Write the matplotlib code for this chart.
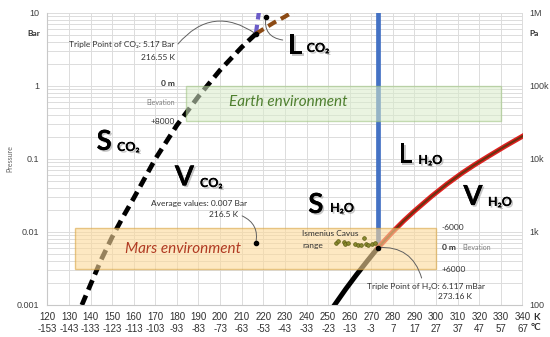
import numpy as np
import matplotlib
matplotlib.use("Agg")
import matplotlib.pyplot as plt
import matplotlib.patheffects as pe
from matplotlib.patches import Rectangle
from matplotlib.ticker import LogLocator, NullFormatter, FixedLocator

plt.rcParams['font.family'] = ['Lato', 'DejaVu Sans']
narrow = ['Liberation Sans Narrow', 'Liberation Sans', 'DejaVu Sans']

# CO2 phase boundaries (K, bar)
co2_sub_T = [136, 140, 145, 150, 155, 160, 170, 180, 190, 200, 210, 216.55]
co2_sub_P = [0.001, 0.0019, 0.0042, 0.0085, 0.016, 0.029, 0.10, 0.29, 0.72, 1.65, 3.4, 5.17]
co2_melt_T = [216.55, 218.0]
co2_melt_P = [5.17, 10.5]
co2_vap_T = [216.55, 220, 225, 230, 234]
co2_vap_P = [5.17, 6.0, 7.4, 8.9, 10.5]

# H2O phase boundaries (K, bar)
h2o_sub_T = [253.0, 258.15, 263.15, 268.15, 273.16]
h2o_sub_P = [0.001, 0.00165, 0.0026, 0.00401, 0.006117]
h2o_melt_T = [273.16, 273.16]
h2o_melt_P = [0.006117, 10.5]
h2o_vap_T = [273.16, 280, 285, 290, 298, 305, 312, 318, 324, 332, 340]
h2o_vap_P = [0.006117, 0.0101, 0.0142, 0.0194, 0.031, 0.0453, 0.0641, 0.084, 0.108, 0.150, 0.205]

# Ismenius Cavus measurements (K, bar)
ism_T = [253.7, 254.7, 257.5, 258.0, 259.0, 262.5, 264.0, 265.2, 266.6, 267.4, 268.6, 270.2, 271.7]
ism_P = [0.00713, 0.00753, 0.00736, 0.00686, 0.0070, 0.00686, 0.00664, 0.0067, 0.0082,
         0.00686, 0.0067, 0.00686, 0.0070]

kelvin_ticks = list(range(120, 341, 10))
celsius_labels = [str(k - 273) for k in kelvin_ticks]
bar_ticks = [0.001, 0.01, 0.1, 1, 10]
bar_labels = ['0.001', '0.01', '0.1', '1', '10']
pa_labels = ['100', '1k', '10k', '100k', '1M']

fig = plt.figure(figsize=(5.5, 3.37), dpi=100)
ax = fig.add_axes([0.086, 0.095, 0.864, 0.8665])
ax.set_xlim(120, 340)
ax.set_yscale('log')
ax.set_ylim(0.001, 10)

ax.set_xticks(kelvin_ticks)
ax.set_xticklabels([f"{k}\n{c}" for k, c in zip(kelvin_ticks, celsius_labels)],
                   fontsize=7, color='#303030', linespacing=1.25, family=narrow)
ax.yaxis.set_major_locator(FixedLocator(bar_ticks))
ax.set_yticklabels(bar_labels, fontsize=6.5, color='#404040', family=narrow)
ax.yaxis.set_minor_locator(LogLocator(base=10, subs=np.arange(2, 10)))
ax.yaxis.set_minor_formatter(NullFormatter())
ax.tick_params(which='both', length=0)
ax.tick_params(axis='x', pad=5)
ax.tick_params(axis='y', pad=6)
ax.grid(which='both', color='#dcdcdc', lw=0.7, zorder=0)
for s in ['top', 'right']:
    ax.spines[s].set_visible(False)
for s in ['left', 'bottom']:
    ax.spines[s].set_color('#c8c8c8')
ax.set_axisbelow(True)

# right axis in Pa
ax2 = ax.twinx()
ax2.set_yscale('log')
ax2.set_ylim(100, 1e6)
ax2.yaxis.set_major_locator(FixedLocator([100, 1e3, 1e4, 1e5, 1e6]))
ax2.set_yticklabels(pa_labels, fontsize=6.5, color='#404040', family=narrow)
ax2.yaxis.set_minor_formatter(NullFormatter())
ax2.tick_params(which='both', length=0, pad=5)
for s in ax2.spines.values():
    s.set_visible(False)

# curves
dash = (2.2, 1.3)
ax.plot(co2_sub_T, co2_sub_P, color='black', lw=3.4, dashes=dash, zorder=2)
ax.plot(co2_melt_T, co2_melt_P, color='#6b5cc8', lw=3.0, dashes=dash, zorder=2)
ax.plot(co2_vap_T, co2_vap_P, color='#8b4a14', lw=3.0, dashes=dash, zorder=2)

ax.plot(h2o_melt_T, h2o_melt_P, color='#4472c4', lw=3.4, zorder=2)
ax.plot(h2o_sub_T, h2o_sub_P, color='black', lw=3.6, zorder=2)
ax.plot(h2o_vap_T, h2o_vap_P, color='#e02020', lw=3.6, zorder=2)
ax.plot(h2o_vap_T, h2o_vap_P, color='#6b3210', lw=1.5, zorder=2)

ax.scatter(ism_T, ism_P, s=7, color='#8a8a30', edgecolor='#5a5a10', lw=0.5, zorder=4)

# environment boxes
ax.add_patch(Rectangle((184, 0.33), 146, 1.0 - 0.33, facecolor='#d9ecc9', alpha=0.55,
                       edgecolor='#9cc27c', lw=1.0, zorder=3))
ax.add_patch(Rectangle((133, 0.00308), 167, 0.0114 - 0.00308, facecolor='#fcd99a', alpha=0.6,
                       edgecolor='#d9a441', lw=1.0, zorder=3))
ax.text(231.4, 0.6, 'Earth environment', fontsize=11, style='italic', color='#4e7f2e',
        ha='center', va='center', zorder=5)
ax.text(182.8, 0.00585, 'Mars environment', fontsize=11, style='italic', color='#b03a22',
        ha='center', va='center', zorder=5)

# elevation labels
ax.text(179, 1.07, '0 m', fontsize=6, fontweight='bold', ha='right', va='center', color='#303030')
ax.text(179, 0.6, 'Elevation', fontsize=5, ha='right', va='center', color='#808080')
ax.text(179, 0.33, '+8000', fontsize=6, ha='right', va='center', color='#303030')
ax.text(302.7, 0.01135, '-6000', fontsize=6, ha='left', va='center', color='#303030')
ax.text(302.7, 0.00604, '0 m', fontsize=6, fontweight='bold', ha='left', va='center', color='#303030')
ax.text(312, 0.00604, 'Elevation', fontsize=5, ha='left', va='center', color='#808080')
ax.text(302.7, 0.00311, '+6000', fontsize=6, ha='left', va='center', color='#303030')

# phase labels
shadow = [pe.withSimplePatchShadow(offset=(1.2, -1.2), shadow_rgbFace='#909090', alpha=0.5), pe.Normal()]
def phase(x, y, big, xs, ys, small):
    ax.text(x, y, big, fontsize=20, fontweight='bold', ha='left', va='center',
            path_effects=shadow, zorder=6)
    ax.text(xs, ys, small, fontsize=9, fontweight='bold', ha='left', va='center',
            path_effects=shadow, zorder=6)

phase(142.8, 0.171, 'S', 152.3, 0.146, 'CO₂')
phase(179.0, 0.0558, 'V', 190.7, 0.0469, 'CO₂')
phase(231.4, 3.53, 'L', 240.1, 3.32, 'CO₂')
phase(240.8, 0.0234, 'S', 250.9, 0.0213, 'H₂O')
phase(282.5, 0.1135, 'L', 291.8, 0.0968, 'H₂O')
phase(312.6, 0.0301, 'V', 324.0, 0.0258, 'H₂O')

# annotations
arc = dict(arrowstyle='-', color='#606060', lw=0.7, shrinkA=0, shrinkB=0)
ax.text(179, 3.65, 'Triple Point of CO₂: 5.17 Bar', fontsize=6, ha='right', va='center', color='#303030')
ax.text(179, 2.49, '216.55 K', fontsize=6, ha='right', va='center', color='#303030')
ax.annotate('', xy=(216.55, 5.17), xytext=(180.5, 3.76),
            arrowprops=dict(arc, connectionstyle='arc3,rad=-0.45'))
ax.plot([216.55], [5.17], 'o', color='black', ms=3, zorder=6)

ax.annotate('', xy=(221.2, 8.8), xytext=(229, 4.26),
            arrowprops=dict(arc, connectionstyle='arc3,rad=-0.5'))
ax.plot([221.2], [8.8], 'o', color='black', ms=3, zorder=6)

ax.text(212.5, 0.0249, 'Average values: 0.007 Bar', fontsize=6, ha='right', va='center', color='#303030')
ax.text(208.3, 0.0171, '216.5 K', fontsize=6, ha='right', va='center', color='#303030')
ax.annotate('', xy=(216.5, 0.007), xytext=(210.2, 0.0166),
            arrowprops=dict(arc, connectionstyle='arc3,rad=-0.4'))
ax.plot([216.5], [0.007], 'o', color='black', ms=3, zorder=6)

ax.text(238, 0.0094, 'Ismenius Cavus', fontsize=6, ha='left', va='center', color='#303030', zorder=6)
ax.text(238, 0.00643, 'range', fontsize=6, ha='left', va='center', color='#303030', zorder=6)

ax.text(268.1, 0.00177, 'Triple Point of H₂O: 6.117 mBar', fontsize=6, ha='left', va='center', color='#303030')
ax.text(316.6, 0.00129, '273.16 K', fontsize=6, ha='right', va='center', color='#303030')
ax.annotate('', xy=(273.16, 0.006117), xytext=(293.3, 0.00234),
            arrowprops=dict(arc, connectionstyle='arc3,rad=0.4'))
ax.plot([273.16], [0.006117], 'o', color='black', ms=3, zorder=6)

# axis captions
fig.text(40 / 550, 1 - 33 / 337, 'Bar', fontsize=6, fontweight='bold', ha='right', va='center', color='#303030')
fig.text(529 / 550, 1 - 34 / 337, 'Pa', fontsize=6, fontweight='bold', ha='left', va='center', color='#303030')
fig.text(10 / 550, 1 - 158 / 337, 'Pressure', fontsize=5, rotation=90, ha='center', va='center', color='#606060')
fig.text(533 / 550, 1 - 317 / 337, 'K', fontsize=7, fontweight='bold', ha='left', va='center', color='#303030')
fig.text(531 / 550, 1 - 328 / 337, '°C', fontsize=7, fontweight='bold', ha='left', va='center', color='#303030')

fig.savefig('out.png', dpi=100)
